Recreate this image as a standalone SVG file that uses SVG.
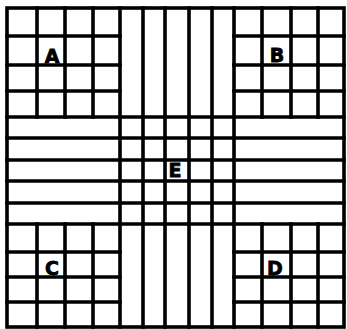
<svg xmlns="http://www.w3.org/2000/svg" width="347" height="329" viewBox="0 0 347 329">
<style>
.g{stroke:#000;stroke-width:3.6;stroke-linecap:square;fill:none}
.t{font-family:"DejaVu Sans","Liberation Sans",sans-serif;font-weight:bold;font-size:19px;fill:#000;text-anchor:middle;stroke:#000;stroke-width:0.8}
</style>
<rect width="347" height="329" fill="#fff"/>
<g id="grid" class="g">
<rect x="7" y="8" width="337" height="319"/>
<path d="M120 8V327M143 8V327M165 8V327M189 8V327M212 8V327M234 8V327"/>
<path d="M7 117H344M7 138H344M7 160H344M7 181H344M7 203H344M7 224H344"/>
<path d="M37 8V117M65 8V117M93 8V117M262 8V117M291 8V117M318 8V117"/>
<path d="M37 224V327M65 224V327M93 224V327M262 224V327M291 224V327M318 224V327"/>
<path d="M7 36H120M7 65H120M7 91H120M234 36H344M234 65H344M234 91H344"/>
<path d="M7 252H120M7 277H120M7 302H120M234 252H344M234 277H344M234 302H344"/>
</g>
<g id="A"><text class="t" x="52" y="63">A</text></g>
<g id="B"><text class="t" x="277" y="62">B</text></g>
<g id="C"><text class="t" x="52" y="275">C</text></g>
<g id="D"><text class="t" x="275" y="275">D</text></g>
<g id="E"><text class="t" x="175" y="177">E</text></g>
</svg>
